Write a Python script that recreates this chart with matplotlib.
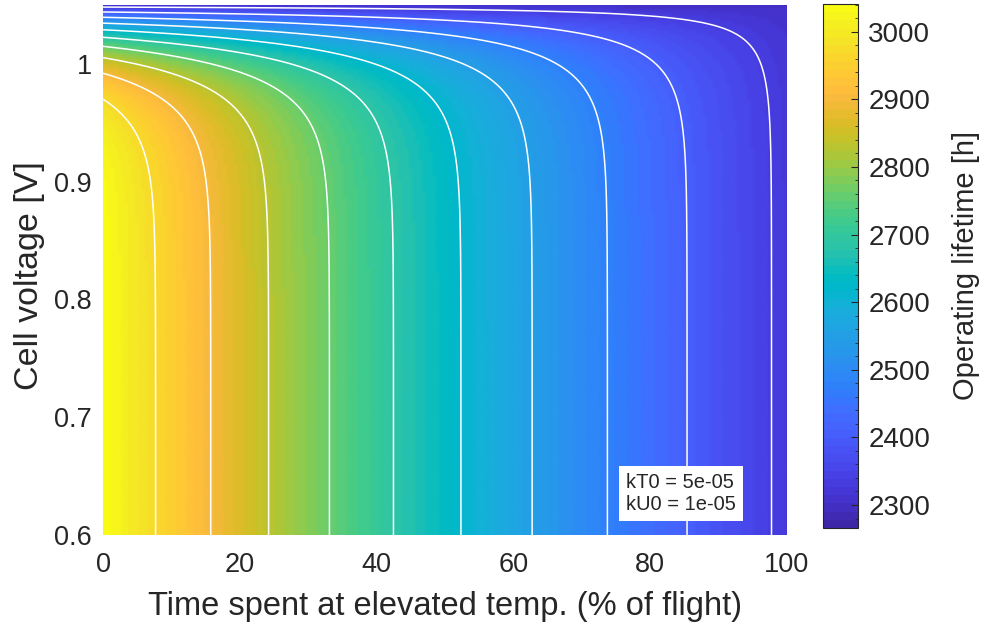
import numpy as np
import matplotlib.pyplot as plt
from matplotlib.colors import ListedColormap
from matplotlib.ticker import MultipleLocator

plt.rcParams['font.family'] = ['Liberation Sans', 'DejaVu Sans']

# axes of the map
t_pct = np.linspace(0, 100, 201)      # time at elevated temp. (% of flight)
v_cell = np.linspace(0.6, 1.05, 181)  # cell voltage [V]

# values
life_cool = 3041.0     # h, 0 % elevated, low voltage (bottom left)
life_hot = 2324.0      # h, 100 % elevated, low voltage (bottom right)
v_ref = 0.97           # V, where first contour meets the left edge
rate_v_ref = 7.8e-6    # 1/h, extra voltage degradation at v_ref
v_slope = 32.5         # 1/V, e-fold growth of the voltage term
hot_keep = 0.04        # share of voltage term still active at 100 %
clim = [2266, 3041]    # colorbar limits
n_levels = 10
kT0 = 5e-05
kU0 = 1e-05

# parula (MATLAB) colour table
parula = ListedColormap([
    [0.2422, 0.1504, 0.6603], [0.2504, 0.1650, 0.7076], [0.2578, 0.1818, 0.7511],
    [0.2647, 0.1978, 0.7952], [0.2706, 0.2147, 0.8364], [0.2751, 0.2342, 0.8710],
    [0.2783, 0.2559, 0.8991], [0.2803, 0.2782, 0.9221], [0.2813, 0.3006, 0.9414],
    [0.2810, 0.3228, 0.9579], [0.2795, 0.3447, 0.9717], [0.2760, 0.3667, 0.9829],
    [0.2699, 0.3892, 0.9906], [0.2602, 0.4123, 0.9952], [0.2440, 0.4358, 0.9988],
    [0.2206, 0.4603, 0.9973], [0.1963, 0.4847, 0.9892], [0.1834, 0.5074, 0.9798],
    [0.1786, 0.5289, 0.9682], [0.1764, 0.5499, 0.9520], [0.1687, 0.5703, 0.9359],
    [0.1540, 0.5902, 0.9218], [0.1460, 0.6091, 0.9079], [0.1380, 0.6276, 0.8973],
    [0.1248, 0.6459, 0.8883], [0.1113, 0.6635, 0.8763], [0.0952, 0.6798, 0.8598],
    [0.0689, 0.6948, 0.8394], [0.0297, 0.7082, 0.8163], [0.0036, 0.7203, 0.7917],
    [0.0067, 0.7312, 0.7660], [0.0433, 0.7411, 0.7394], [0.0964, 0.7500, 0.7120],
    [0.1408, 0.7584, 0.6842], [0.1717, 0.7670, 0.6554], [0.1938, 0.7758, 0.6251],
    [0.2161, 0.7843, 0.5923], [0.2470, 0.7918, 0.5567], [0.2906, 0.7973, 0.5188],
    [0.3406, 0.8008, 0.4789], [0.3909, 0.8029, 0.4354], [0.4456, 0.8024, 0.3909],
    [0.5044, 0.7993, 0.3480], [0.5616, 0.7942, 0.3045], [0.6174, 0.7876, 0.2612],
    [0.6720, 0.7793, 0.2227], [0.7242, 0.7698, 0.1910], [0.7738, 0.7598, 0.1646],
    [0.8203, 0.7498, 0.1535], [0.8634, 0.7406, 0.1596], [0.9035, 0.7330, 0.1774],
    [0.9393, 0.7288, 0.2100], [0.9728, 0.7298, 0.2394], [0.9956, 0.7434, 0.2371],
    [0.9970, 0.7659, 0.2199], [0.9952, 0.7893, 0.2028], [0.9892, 0.8136, 0.1885],
    [0.9786, 0.8386, 0.1766], [0.9676, 0.8639, 0.1643], [0.9610, 0.8890, 0.1537],
    [0.9597, 0.9135, 0.1423], [0.9628, 0.9373, 0.1265], [0.9691, 0.9606, 0.1064],
    [0.9769, 0.9839, 0.0805]])

# lifetime map: 1/life = degradation rate
F, V = np.meshgrid(t_pct / 100.0, v_cell)
rate = (1 / life_cool + (1 / life_hot - 1 / life_cool) * F
        + rate_v_ref * np.exp(v_slope * (V - v_ref)) * (1 - (1 - hot_keep) * F))
life = 1 / rate
levels = np.linspace(clim[0], clim[1], n_levels + 2)[1:-1]

fig = plt.figure(figsize=(9.82, 6.32), dpi=100)
ax = fig.add_axes([0.1049, 0.1535, 0.6965, 0.8386])
cax = fig.add_axes([0.838, 0.1646, 0.0356, 0.829])

im = ax.pcolormesh(t_pct, v_cell, life, cmap=parula, vmin=clim[0], vmax=clim[1],
                   shading='gouraud', rasterized=True)
ax.contour(t_pct, v_cell, life, levels=levels, colors='white', linewidths=1.1)

dark = '#262626'
ax.set_xlim(0, 100)
ax.set_ylim(0.6, 1.05)
ax.set_xticks([0, 20, 40, 60, 80, 100])
ax.set_yticks([0.6, 0.7, 0.8, 0.9, 1.0])
ax.set_yticklabels(['0.6', '0.7', '0.8', '0.9', '1'])
for s in ax.spines.values():
    s.set_visible(False)
ax.tick_params(length=0, labelsize=19.5, colors=dark)
ax.tick_params(axis='x', pad=12)
ax.tick_params(axis='y', pad=8)

# axis titles placed by pixel centre
fig.text(445 / 982, 1 - 607 / 632, 'Time spent at elevated temp. (% of flight)',
         ha='center', va='center', fontsize=23.5, color=dark)
fig.text(30 / 982, 1 - 276 / 632, 'Cell voltage [V]', rotation=90,
         ha='center', va='center', fontsize=24.5, color=dark)
fig.text(966 / 982, 1 - 265 / 632, 'Operating lifetime [h]', rotation=90,
         ha='center', va='center', fontsize=21, color=dark)

ax.text(0.845, 0.078, 'kT0 = %g\nkU0 = %g' % (kT0, kU0), transform=ax.transAxes,
        ha='center', va='center', multialignment='left', fontsize=14.5, color=dark,
        bbox=dict(facecolor='white', edgecolor='none', pad=5))

cb = fig.colorbar(im, cax=cax)
cb.set_ticks([2300, 2400, 2500, 2600, 2700, 2800, 2900, 3000])
cb.ax.yaxis.set_minor_locator(MultipleLocator(20))
cb.ax.tick_params(which='major', direction='in', length=5, labelsize=20, colors=dark, pad=7.5)
cb.ax.tick_params(which='minor', direction='in', length=2.5, colors=dark)
cb.outline.set_edgecolor(dark)
cb.outline.set_linewidth(0.8)

fig.savefig('out.png', dpi=100)
